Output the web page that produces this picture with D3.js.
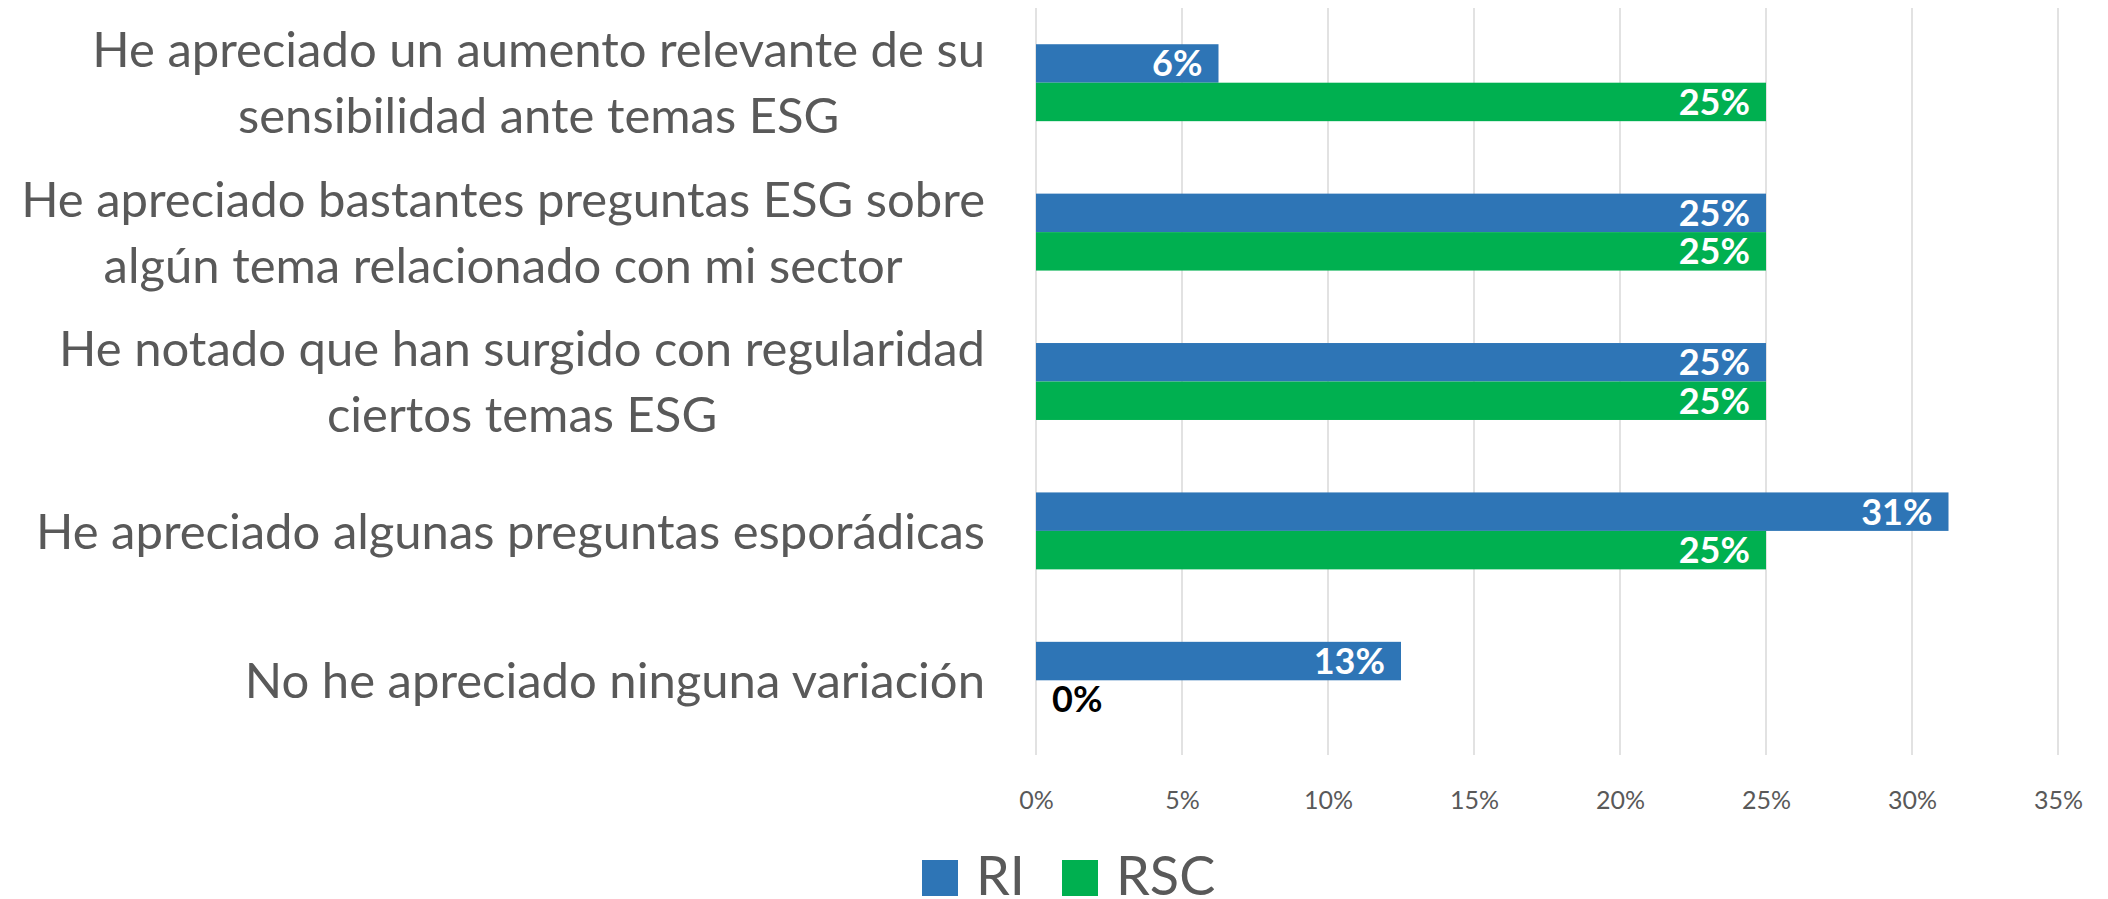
<!DOCTYPE html>
<html>
<head>
<meta charset="utf-8">
<script src="https://cdn.jsdelivr.net/npm/d3@7"></script>
<style>
  body { margin: 0; background: #fff; }
  text { font-family: Lato, "Open Sans", sans-serif; }
</style>
</head>
<body>
<script>
// Data
var categories = [
  ["He apreciado un aumento relevante de su", "sensibilidad ante temas ESG"],
  ["He apreciado bastantes preguntas ESG sobre", "algún tema relacionado con mi sector"],
  ["He notado que han surgido con regularidad", "ciertos temas ESG"],
  ["He apreciado algunas preguntas esporádicas"],
  ["No he apreciado ninguna variación"]
];
var seriesNames = ["RI", "RSC"];
var riValues = [0.0625, 0.25, 0.25, 0.3125, 0.125];
var rscValues = [0.25, 0.25, 0.25, 0.25, 0];
var tickValues = [0, 0.05, 0.10, 0.15, 0.20, 0.25, 0.30, 0.35];
var colors = ["#2E75B6", "#00B050"];

var W = 2108, H = 899;
var margin = {top: 8, right: 50, bottom: 144, left: 1036},
    width = W - margin.left - margin.right,
    height = H - margin.top - margin.bottom;

var svg = d3.select("body").append("svg")
            .attr("width", W)
            .attr("height", H);

var g = svg.append("g")
           .attr("transform", "translate(" + margin.left + "," + margin.top + ")");

// Scales
var xScale = d3.scaleLinear().domain([0, 0.35]).range([0, 7 * 146]);
var yScale = d3.scaleBand().domain(d3.range(categories.length)).range([0, height]).paddingInner(0.485).paddingOuter(0.2425);
var ySub = d3.scaleBand().domain([0, 1]).range([0, yScale.bandwidth()]);

// Gridlines
g.selectAll(".grid")
 .data(tickValues)
 .enter()
 .append("line")
 .attr("class", "grid")
 .attr("x1", d => xScale(d)).attr("x2", d => xScale(d))
 .attr("y1", 0).attr("y2", height)
 .style("stroke", "#D9D9D9")
 .style("stroke-width", 1.5);

// x axis labels
var xAxis = d3.axisBottom(xScale)
              .tickValues(tickValues)
              .tickFormat(d3.format(".0%"))
              .tickSize(0)
              .tickPadding(36);

g.append("g")
 .attr("class", "x axis")
 .attr("transform", "translate(0," + height + ")")
 .call(xAxis)
 .call(ax => ax.select(".domain").remove())
 .selectAll("text")
 .style("font-size", "25px")
 .style("fill", "#595959");

// Bars
var rows = categories.map((c, i) => ({i: i, values: [riValues[i], rscValues[i]]}));

var group = g.selectAll(".cat")
             .data(rows)
             .enter()
             .append("g")
             .attr("class", "cat")
             .attr("transform", d => "translate(0," + yScale(d.i) + ")");

group.selectAll("rect")
     .data(d => d.values.map((v, s) => ({v: v, s: s})))
     .enter()
     .append("rect")
     .attr("x", 0)
     .attr("y", d => ySub(d.s))
     .attr("width", d => xScale(d.v))
     .attr("height", ySub.bandwidth())
     .attr("fill", d => colors[d.s]);

group.selectAll(".label")
     .data(d => d.values.map((v, s) => ({v: v, s: s})))
     .enter()
     .append("text")
     .attr("class", "label")
     .attr("x", d => d.v > 0 ? xScale(d.v) - 16 : xScale(0) + 16)
     .attr("y", d => ySub(d.s) + ySub.bandwidth() / 2)
     .attr("dy", "0.36em")
     .style("text-anchor", d => d.v > 0 ? "end" : "start")
     .style("font-size", "36px")
     .style("font-weight", "bold")
     .style("fill", d => d.v > 0 ? "#fff" : "#000")
     .text(d => d3.format(".0%")(d.v));

// Category labels (block right aligned, lines centered)
var lineH = 66, labelRight = 985 - margin.left;

var cat = g.selectAll(".catlabel")
           .data(categories)
           .enter()
           .append("text")
           .attr("class", "catlabel")
           .style("font-size", "49px")
           .style("fill", "#595959")
           .style("text-anchor", "middle");

cat.each(function(lines, i) {
  var t = d3.select(this);
  var cy = yScale(i) + yScale.bandwidth() / 2;
  lines.forEach((ln, k) => {
    t.append("tspan")
     .attr("y", cy + (k - (lines.length - 1) / 2) * lineH)
     .attr("dy", "0.36em")
     .text(ln);
  });
  var maxW = d3.max(t.selectAll("tspan").nodes(), n => n.getComputedTextLength());
  t.selectAll("tspan").attr("x", labelRight - maxW / 2);
});

// Legend
var legend = svg.append("g").attr("class", "legend");
var legendX = [922, 1062];
seriesNames.forEach((name, i) => {
  legend.append("rect")
        .attr("x", legendX[i]).attr("y", 860)
        .attr("width", 36).attr("height", 36)
        .attr("fill", colors[i]);
  legend.append("text")
        .attr("x", legendX[i] + 54)
        .attr("y", 895)
        .style("font-size", "54px")
        .style("fill", "#595959")
        .text(name);
});
</script>
</body>
</html>
